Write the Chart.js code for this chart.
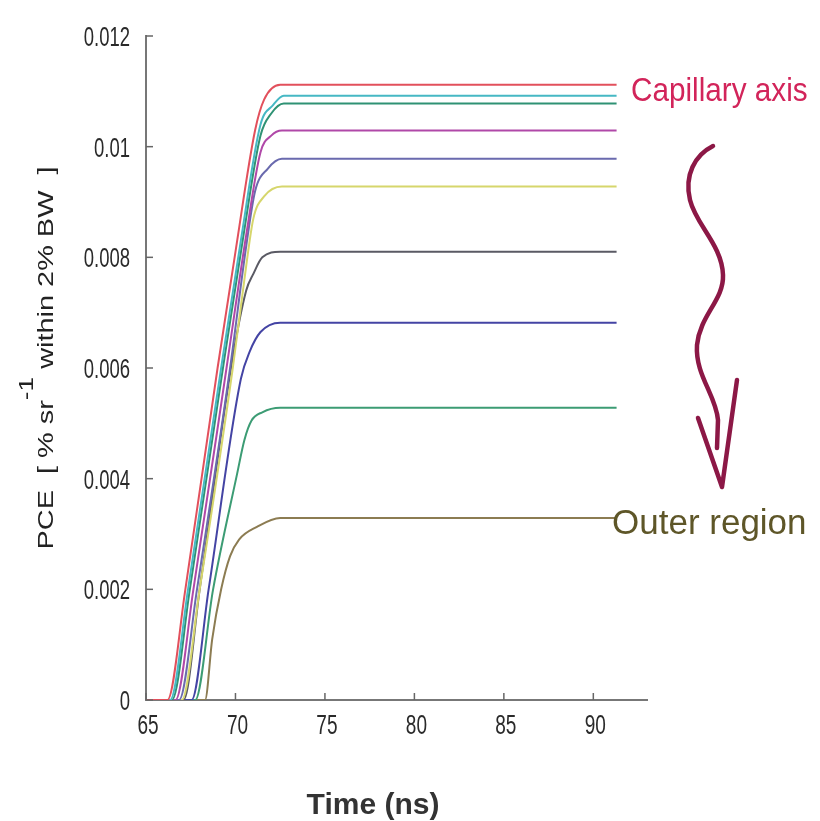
<!DOCTYPE html>
<html>
<head>
<meta charset="utf-8">
<script src="https://cdn.jsdelivr.net/npm/chart.js@4.4.1/dist/chart.umd.min.js"></script>
<style>
    html, body { margin: 0; padding: 0; background: #fff; }
    #wrap { width: 820px; height: 821px; position: relative; }
</style>
</head>
<body>
<div id="wrap"><canvas id="pceChart"></canvas></div>
<script>
// x ticks (ns) and y ticks (PCE)
const xTicks = [65, 70, 75, 80, 85, 90];
const yTicks = [0, 0.002, 0.004, 0.006, 0.008, 0.01, 0.012];

// curves, [time ns, PCE], top plateau to bottom
const curveRed = [[65, 0], [66.2, 0], [67.2, 0.002], [69.0, 0.006], [70.0, 0.0081], [71.1, 0.0103], [71.6, 0.01085], [72.5, 0.01112], [91.3, 0.01112]];
const curveCyan = [[65, 0], [66.35, 0], [67.35, 0.002], [69.2, 0.006], [70.3, 0.0083], [71.4, 0.0104], [72.1, 0.01075], [72.7, 0.01092], [91.3, 0.01092]];
const curveTeal = [[65, 0], [66.45, 0], [67.45, 0.002], [69.3, 0.006], [70.4, 0.0083], [71.4, 0.0102], [72.0, 0.0106], [72.7, 0.01078], [91.3, 0.01078]];
const curveMagenta = [[65, 0], [66.65, 0], [67.65, 0.002], [69.5, 0.006], [70.6, 0.0084], [71.4, 0.0099], [72.0, 0.0102], [72.6, 0.01029], [91.3, 0.01029]];
const curveSlate = [[65, 0], [66.85, 0], [67.85, 0.002], [69.7, 0.006], [70.6, 0.0082], [71.1, 0.0092], [71.8, 0.0096], [72.6, 0.00978], [91.3, 0.00978]];
const curveYellow = [[65, 0], [67.0, 0], [68.0, 0.002], [69.85, 0.006], [70.5, 0.0076], [71.0, 0.0087], [71.6, 0.0091], [72.6, 0.00928], [91.3, 0.00928]];
const curveGray = [[65, 0], [67.1, 0], [68.0, 0.002], [69.75, 0.006], [70.6, 0.0074], [71.0, 0.0077], [71.5, 0.0080], [72.5, 0.0081], [91.3, 0.0081]];
const curveBlue = [[65, 0], [67.55, 0], [68.5, 0.002], [70.3, 0.0058], [70.8, 0.0063], [71.4, 0.00665], [72.5, 0.00682], [91.3, 0.00682]];
const curveGreen = [[65, 0], [67.75, 0], [68.75, 0.002], [70.1, 0.0041], [70.5, 0.0047], [70.9, 0.00505], [71.5, 0.0052], [72.5, 0.00528], [91.3, 0.00528]];
const curveOlive = [[65, 0], [68.3, 0], [68.7, 0.0011], [69.2, 0.002], [69.7, 0.0026], [70.2, 0.0029], [71.2, 0.00313], [72.5, 0.00329], [91.3, 0.00329]];

const curves = [curveRed, curveCyan, curveTeal, curveMagenta, curveSlate, curveYellow, curveGray, curveBlue, curveGreen, curveOlive];
const curveColors = ['#e2505c', '#46b8c4', '#2f9274', '#b048a8', '#6a6aae', '#d6d66c', '#5a5a64', '#4444a4', '#3c9c74', '#8c7c52'];

const textFont = "'Liberation Sans', Arial, sans-serif";

function yLabel(v) {
    return v === 0 ? '0' : String(+v.toFixed(3));
}

// squeezed text, the tick labels in the picture are narrow
function narrowText(ctx, text, x, y, align, sx) {
    const w = ctx.measureText(text).width * sx;
    let left = x;
    if (align === 'center') left = x - w / 2;
    if (align === 'right') left = x - w;
    ctx.save();
    ctx.translate(left, y);
    ctx.scale(sx, 1);
    ctx.textAlign = 'left';
    ctx.fillText(text, 0, 0);
    ctx.restore();
}

// inward tick marks, tick labels, the two labels, the wavy arrow and the axis titles
const decorPlugin = {
    id: 'decor',
    afterDraw(chart) {
        const ctx = chart.ctx;
        const xs = chart.scales.x;
        const ys = chart.scales.y;
        const area = chart.chartArea;

        ctx.save();
        ctx.strokeStyle = '#666';
        ctx.lineWidth = 1.5;
        ctx.fillStyle = '#2a2a2a';
        ctx.font = '28px ' + textFont;
        ctx.textBaseline = 'alphabetic';
        xTicks.forEach(v => {
            const px = xs.getPixelForValue(v);
            ctx.beginPath();
            ctx.moveTo(px, area.bottom);
            ctx.lineTo(px, area.bottom - 7);
            ctx.stroke();
            narrowText(ctx, String(v), px + 2, area.bottom + 34, 'center', 0.68);
        });
        yTicks.forEach(v => {
            const py = ys.getPixelForValue(v);
            ctx.beginPath();
            ctx.moveTo(area.left, py);
            ctx.lineTo(area.left + 7, py);
            ctx.stroke();
            narrowText(ctx, yLabel(v), area.left - 16, py + 10, 'right', 0.66);
        });

        // labels on the right
        ctx.textAlign = 'left';
        ctx.fillStyle = '#d2245a';
        ctx.font = '33px ' + textFont;
        narrowText(ctx, 'Capillary axis', 631, 101, 'left', 0.9);

        ctx.fillStyle = '#5e5628';
        ctx.font = '35px ' + textFont;
        narrowText(ctx, 'Outer region', 612, 534, 'left', 1.0);

        // wavy arrow
        ctx.strokeStyle = '#8c1846';
        ctx.lineWidth = 4.5;
        ctx.lineCap = 'round';
        ctx.lineJoin = 'round';
        ctx.beginPath();
        ctx.moveTo(713, 146);
        ctx.bezierCurveTo(695, 155, 684, 175, 690, 200);
        ctx.bezierCurveTo(696, 225, 722, 245, 723, 275);
        ctx.bezierCurveTo(724, 300, 700, 315, 697, 345);
        ctx.bezierCurveTo(695, 375, 716, 395, 718, 420);
        ctx.lineTo(717, 448);
        ctx.stroke();
        ctx.beginPath();
        ctx.moveTo(698, 418);
        ctx.lineTo(722, 487);
        ctx.lineTo(737, 380);
        ctx.stroke();

        // x axis title
        ctx.fillStyle = '#333';
        ctx.font = 'bold 30px ' + textFont;
        narrowText(ctx, 'Time (ns)', 373, 814, 'center', 1.0);

        // y axis title with superscript
        const partA = 'PCE  [ % sr';
        const partSup = '-1';
        const partB = ' within 2% BW  ]';
        ctx.font = '22px ' + textFont;
        const wA = ctx.measureText(partA).width;
        const wB = ctx.measureText(partB).width;
        ctx.font = '20px ' + textFont;
        const wS = ctx.measureText(partSup).width;
        const total = wA + wS + wB;
        const stretch = 383 / total;
        ctx.fillStyle = '#222';
        ctx.save();
        ctx.translate(53, 358);
        ctx.rotate(-Math.PI / 2);
        ctx.scale(stretch, 1);
        ctx.textAlign = 'left';
        let x0 = -total / 2;
        ctx.font = '22px ' + textFont;
        ctx.fillText(partA, x0, 0);
        ctx.font = '20px ' + textFont;
        ctx.fillText(partSup, x0 + wA, -20);
        ctx.font = '22px ' + textFont;
        ctx.fillText(partB, x0 + wA + wS, 0);
        ctx.restore();

        ctx.restore();
    }
};

const datasets = curves.map((c, i) => ({
    data: c.map(p => ({x: p[0], y: p[1]})),
    borderColor: curveColors[i],
    borderWidth: 2,
    pointRadius: 0,
    fill: false,
    cubicInterpolationMode: 'monotone'
}));

new Chart(document.getElementById('pceChart').getContext('2d'), {
    type: 'line',
    data: {datasets: datasets},
    plugins: [decorPlugin],
    options: {
        responsive: true,
        maintainAspectRatio: false,
        animation: false,
        layout: {padding: {left: 0, top: 36, right: 173, bottom: 0}},
        plugins: {
            legend: {display: false},
            tooltip: {enabled: false}
        },
        scales: {
            x: {
                type: 'linear',
                min: 65,
                max: 93,
                afterFit: s => { s.height = 121; },
                afterBuildTicks: s => { s.ticks = xTicks.map(v => ({value: v})); },
                grid: {display: false, drawTicks: false},
                border: {display: true, color: '#777', width: 2},
                ticks: {display: false}
            },
            y: {
                min: 0,
                max: 0.012,
                afterFit: s => { s.width = 146; },
                afterBuildTicks: s => { s.ticks = yTicks.map(v => ({value: v})); },
                grid: {display: false, drawTicks: false},
                border: {display: true, color: '#777', width: 2},
                ticks: {display: false}
            }
        }
    }
});
</script>
</body>
</html>
